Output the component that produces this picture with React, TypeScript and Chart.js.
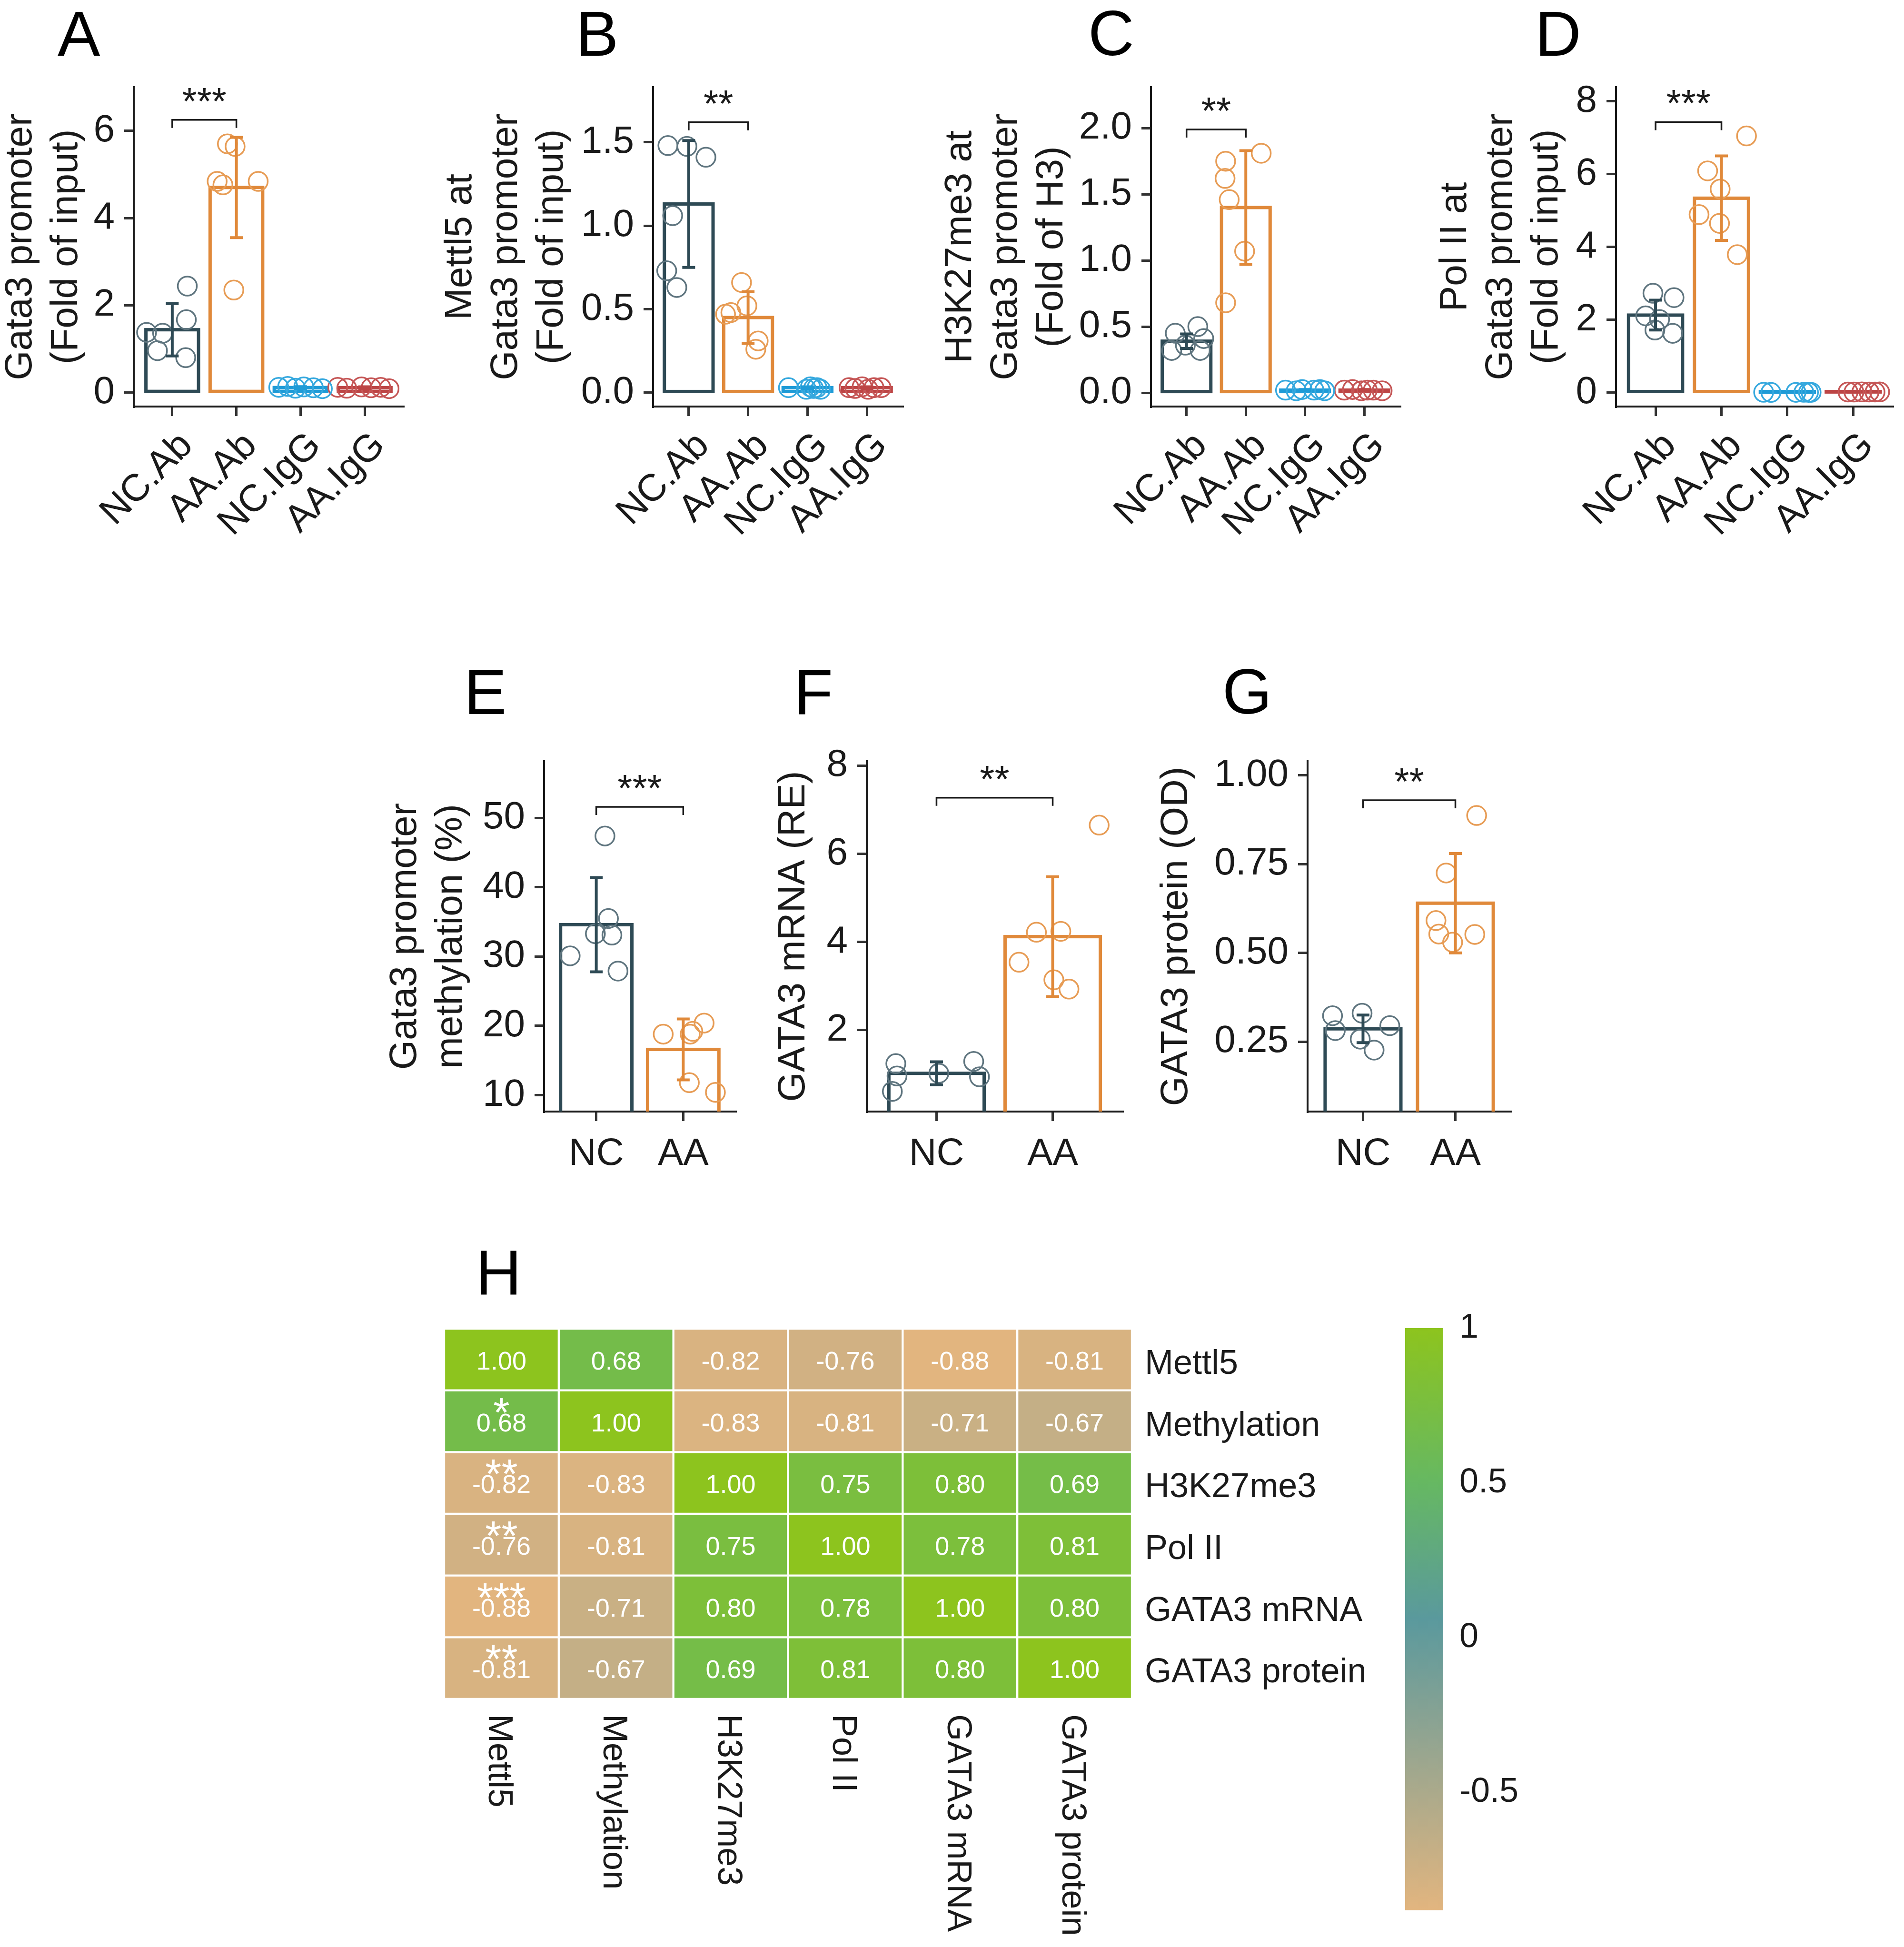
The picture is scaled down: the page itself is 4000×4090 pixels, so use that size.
import React, { useEffect, useRef } from 'react';
import { Chart, registerables } from 'chart.js';

Chart.register(...registerables);

const FONT = '"Liberation Sans", Arial, Helvetica, sans-serif';
const INK = '#1a1a1a';

// ---------------- categories ----------------
const chipCategories = ['NC.Ab', 'AA.Ab', 'NC.IgG', 'AA.IgG'];
const exprCategories = ['NC', 'AA'];

// ---------------- Panel A ----------------
const aMeans = [1.44, 4.7, 0.115, 0.113];
const aSD = [0.6, 1.15, 0.02, 0.02];
const aPtsX = [
  [0.6, 0.85, 0.77, 1.235, 1.22, 1.21],
  [1.86, 1.98, 1.7, 1.79, 2.34, 1.96],
  [2.66, 2.8, 2.92, 3.05, 3.2, 3.34],
  [3.58, 3.72, 3.95, 4.1, 4.25, 4.38],
];
const aPtsY = [
  [1.38, 1.36, 0.96, 2.44, 1.67, 0.8],
  [5.7, 5.64, 4.84, 4.76, 4.84, 2.35],
  [0.12, 0.14, 0.1, 0.13, 0.11, 0.09],
  [0.12, 0.1, 0.13, 0.11, 0.12, 0.09],
];
const aTicks = [0, 2, 4, 6];
const aTickLabels = ['0', '2', '4', '6'];
const aSigY = 6.25;
const aSigLabel = '***';

// ---------------- Panel B ----------------
const bMeans = [1.13, 0.45, 0.03, 0.03];
const bSD = [0.38, 0.155, 0.005, 0.005];
const bPtsX = [
  [0.65, 0.97, 1.29, 0.73, 0.63, 0.8],
  [1.89, 1.98, 1.71, 1.62, 2.17, 2.13],
  [2.68, 2.98, 3.05, 3.1, 3.16, 3.22],
  [3.7, 3.8, 3.92, 4.02, 4.12, 4.24],
];
const bPtsY = [
  [1.48, 1.475, 1.41, 1.06, 0.73, 0.63],
  [0.66, 0.52, 0.48, 0.47, 0.31, 0.26],
  [0.03, 0.02, 0.035, 0.025, 0.03, 0.02],
  [0.03, 0.025, 0.035, 0.02, 0.03, 0.03],
];
const bTicks = [0, 0.5, 1.0, 1.5];
const bTickLabels = ['0.0', '0.5', '1.0', '1.5'];
const bSigY = 1.62;
const bSigLabel = '**';

// ---------------- Panel C ----------------
const cMeans = [0.39, 1.4, 0.02, 0.02];
const cSD = [0.055, 0.43, 0.005, 0.005];
const cPtsX = [
  [0.81, 1.19, 1.29, 0.75, 0.98, 1.23],
  [2.26, 1.66, 1.65, 1.72, 1.98, 1.66],
  [2.67, 2.85, 2.95, 3.15, 3.25, 3.33],
  [3.66, 3.8, 3.95, 4.05, 4.15, 4.3],
];
const cPtsY = [
  [0.45, 0.5, 0.41, 0.32, 0.36, 0.32],
  [1.81, 1.75, 1.62, 1.46, 1.07, 0.68],
  [0.02, 0.015, 0.025, 0.02, 0.025, 0.015],
  [0.02, 0.025, 0.015, 0.02, 0.02, 0.015],
];
const cTicks = [0, 0.5, 1.0, 1.5, 2.0];
const cTickLabels = ['0.0', '0.5', '1.0', '1.5', '2.0'];
const cSigY = 1.99;
const cSigLabel = '**';

// ---------------- Panel D ----------------
const dMeans = [2.13, 5.34, 0.01, 0.02];
const dSD = [0.41, 1.16, 0.005, 0.005];
const dPtsX = [
  [0.96, 1.28, 0.85, 1.06, 0.99, 1.26],
  [2.38, 1.79, 1.98, 1.66, 1.97, 2.24],
  [2.64, 2.75, 3.13, 3.25, 3.32, 3.36],
  [3.92, 4.01, 4.13, 4.24, 4.33, 4.4],
];
const dPtsY = [
  [2.73, 2.61, 2.11, 2.01, 1.72, 1.63],
  [7.05, 6.09, 5.59, 4.89, 4.65, 3.79],
  [0.012, 0.008, 0.01, 0.011, 0.009, 0.01],
  [0.02, 0.018, 0.022, 0.02, 0.019, 0.021],
];
const dTicks = [0, 2, 4, 6, 8];
const dTickLabels = ['0', '2', '4', '6', '8'];
const dSigY = 7.43;
const dSigLabel = '***';

// ---------------- Panel E ----------------
const eMeans = [34.6, 16.6];
const eSD = [6.8, 4.4];
const ePtsX = [
  [1.1, 1.14, 0.99, 1.18, 0.7, 1.25],
  [2.24, 1.77, 2.11, 2.08, 2.07, 2.37],
];
const ePtsY = [
  [47.4, 35.5, 33.3, 33.1, 30.1, 27.9],
  [20.4, 18.8, 19.2, 18.8, 11.8, 10.4],
];
const eTicks = [10, 20, 30, 40, 50];
const eTickLabels = ['10', '20', '30', '40', '50'];
const eSigY = 51.6;
const eSigLabel = '***';

// ---------------- Panel F ----------------
const fMeans = [1.02, 4.12];
const fSD = [0.26, 1.36];
const fPtsX = [
  [0.65, 1.32, 0.66, 1.37, 1.02, 0.62],
  [2.4, 1.86, 2.07, 1.71, 2.01, 2.14],
];
const fPtsY = [
  [1.24, 1.29, 0.96, 0.94, 1.02, 0.61],
  [6.65, 4.22, 4.24, 3.54, 3.14, 2.93],
];
const fTicks = [2, 4, 6, 8];
const fTickLabels = ['2', '4', '6', '8'];
const fSigY = 7.27;
const fSigLabel = '**';

// ---------------- Panel G ----------------
const gMeans = [0.286, 0.64];
const gSD = [0.039, 0.14];
const gPtsX = [
  [0.67, 0.99, 1.29, 0.7, 0.97, 1.12],
  [2.23, 1.9, 1.79, 1.82, 2.21, 1.97],
];
const gPtsY = [
  [0.323, 0.33, 0.295, 0.281, 0.257, 0.226],
  [0.887, 0.725, 0.591, 0.553, 0.552, 0.53],
];
const gTicks = [0.25, 0.5, 0.75, 1.0];
const gTickLabels = ['0.25', '0.50', '0.75', '1.00'];
const gSigY = 0.93;
const gSigLabel = '**';

// ---------------- Panel H (correlation heatmap) ----------------
const hmVars = ['Mettl5', 'Methylation', 'H3K27me3', 'Pol II', 'GATA3 mRNA', 'GATA3 protein'];
const hmValues = [
  [1.0, 0.68, -0.82, -0.76, -0.88, -0.81],
  [0.68, 1.0, -0.83, -0.81, -0.71, -0.67],
  [-0.82, -0.83, 1.0, 0.75, 0.8, 0.69],
  [-0.76, -0.81, 0.75, 1.0, 0.78, 0.81],
  [-0.88, -0.71, 0.8, 0.78, 1.0, 0.8],
  [-0.81, -0.67, 0.69, 0.81, 0.8, 1.0],
];
const hmStarsFirstCol = ['', '*', '**', '**', '***', '**'];
const paletteValues = [-0.88, 0.06, 0.5, 1.0];
const paletteColors = ['#E2B57F', '#5A999D', '#66B862', '#8DC41E'];
const cbTicks = [-0.5, 0, 0.5, 1];
const cbTickLabels = ['-0.5', '0', '0.5', '1'];

// ---------------- styles ----------------
const barColors = ['#2E4A55', '#E0893A', '#1E9BD7', '#BD4545'];
const pointColors = ['#5F757F', '#E79C55', '#35A8DE', '#C55656'];

function hexToRgb(h: string) {
  const n = parseInt(h.slice(1), 16);
  return [(n >> 16) & 255, (n >> 8) & 255, n & 255];
}
function colorFor(v: number) {
  const cs = paletteColors.map(hexToRgb);
  const last = paletteValues.length - 1;
  let c = cs[0];
  if (v >= paletteValues[last]) c = cs[last];
  else if (v > paletteValues[0]) {
    for (let i = 0; i < last; i++) {
      if (v >= paletteValues[i] && v <= paletteValues[i + 1]) {
        const t = (v - paletteValues[i]) / (paletteValues[i + 1] - paletteValues[i]);
        c = cs[i].map((a, k) => Math.round(a + (cs[i + 1][k] - a) * t));
        break;
      }
    }
  }
  return `rgb(${c[0]},${c[1]},${c[2]})`;
}

type Rect = { x: number; y: number; w: number; h: number };
type Plot = { l: number; r: number; t: number; b: number };
type BarPanel = {
  cats: string[];
  means: number[];
  sd: number[];
  px: number[][];
  py: number[][];
  yMin: number;
  yMax: number;
  ticks: number[];
  tickLabels: string[];
  title: string[];
  sigY: number;
  sigLabel: string;
  rotate: boolean;
  canvas: Rect;
  plot: Plot;
  titlePad: number;
};

const ROW1 = { y: 0, h: 1200, t: 183, b: 854 };
const ROW2 = { y: 1380, h: 1120, t: 1599, b: 2335 };

const panels: BarPanel[] = [
  {
    cats: chipCategories, means: aMeans, sd: aSD, px: aPtsX, py: aPtsY,
    yMin: -0.32, yMax: 7.0, ticks: aTicks, tickLabels: aTickLabels,
    title: ['Gata3 promoter', '(Fold of input)'], sigY: aSigY, sigLabel: aSigLabel, rotate: true,
    canvas: { x: -10, y: ROW1.y, w: 910, h: ROW1.h }, plot: { l: 281, r: 847, t: ROW1.t, b: ROW1.b }, titlePad: 6,
  },
  {
    cats: chipCategories, means: bMeans, sd: bSD, px: bPtsX, py: bPtsY,
    yMin: -0.083, yMax: 1.83, ticks: bTicks, tickLabels: bTickLabels,
    title: ['Mettl5 at', 'Gata3 promoter', '(Fold of input)'], sigY: bSigY, sigLabel: bSigLabel, rotate: true,
    canvas: { x: 900, y: ROW1.y, w: 1050, h: ROW1.h }, plot: { l: 1372, r: 1896, t: ROW1.t, b: ROW1.b }, titlePad: 20,
  },
  {
    cats: chipCategories, means: cMeans, sd: cSD, px: cPtsX, py: cPtsY,
    yMin: -0.104, yMax: 2.31, ticks: cTicks, tickLabels: cTickLabels,
    title: ['H3K27me3 at', 'Gata3 promoter', '(Fold of H3)'], sigY: cSigY, sigLabel: cSigLabel, rotate: true,
    canvas: { x: 1950, y: ROW1.y, w: 1050, h: ROW1.h }, plot: { l: 2418, r: 2941, t: ROW1.t, b: ROW1.b }, titlePad: 20,
  },
  {
    cats: chipCategories, means: dMeans, sd: dSD, px: dPtsX, py: dPtsY,
    yMin: -0.38, yMax: 8.39, ticks: dTicks, tickLabels: dTickLabels,
    title: ['Pol II at', 'Gata3 promoter', '(Fold of input)'], sigY: dSigY, sigLabel: dSigLabel, rotate: true,
    canvas: { x: 3000, y: ROW1.y, w: 1000, h: ROW1.h }, plot: { l: 3395, r: 3988, t: ROW1.t, b: ROW1.b }, titlePad: 10,
  },
  {
    cats: exprCategories, means: eMeans, sd: eSD, px: ePtsX, py: ePtsY,
    yMin: 7.63, yMax: 58.2, ticks: eTicks, tickLabels: eTickLabels,
    title: ['Gata3 promoter', 'methylation (%)'], sigY: eSigY, sigLabel: eSigLabel, rotate: false,
    canvas: { x: 780, y: ROW2.y, w: 820, h: ROW2.h }, plot: { l: 1143, r: 1545, t: ROW2.t, b: ROW2.b }, titlePad: 24,
  },
  {
    cats: exprCategories, means: fMeans, sd: fSD, px: fPtsX, py: fPtsY,
    yMin: 0.153, yMax: 8.1, ticks: fTicks, tickLabels: fTickLabels,
    title: ['GATA3 mRNA (RE)'], sigY: fSigY, sigLabel: fSigLabel, rotate: false,
    canvas: { x: 1600, y: ROW2.y, w: 800, h: ROW2.h }, plot: { l: 1821, r: 2358, t: ROW2.t, b: ROW2.b }, titlePad: 20,
  },
  {
    cats: exprCategories, means: gMeans, sd: gSD, px: gPtsX, py: gPtsY,
    yMin: 0.053, yMax: 1.04, ticks: gTicks, tickLabels: gTickLabels,
    title: ['GATA3 protein (OD)'], sigY: gSigY, sigLabel: gSigLabel, rotate: false,
    canvas: { x: 2400, y: ROW2.y, w: 900, h: ROW2.h }, plot: { l: 2747, r: 3174, t: ROW2.t, b: ROW2.b }, titlePad: 24,
  },
];

const letters = [
  { t: 'A', x: 121, y: 4 },
  { t: 'B', x: 1210, y: 4 },
  { t: 'C', x: 2286, y: 3 },
  { t: 'D', x: 3225, y: 4 },
  { t: 'E', x: 975, y: 1387 },
  { t: 'F', x: 1668, y: 1387 },
  { t: 'G', x: 2568, y: 1386 },
  { t: 'H', x: 999, y: 2607 },
];

const baseOptions = {
  responsive: false,
  animation: false as const,
  devicePixelRatio: 1,
  events: [] as any[],
  plugins: { legend: { display: false }, tooltip: { enabled: false } },
};

function barConfig(p: BarPanel): any {
  const n = p.cats.length;
  const { canvas, plot } = p;
  const datasets: any[] = [
    {
      type: 'bar',
      data: p.means.map((m, i) => ({ x: i + 1, y: m })),
      backgroundColor: 'rgba(0,0,0,0)',
      borderWidth: 0,
      barPercentage: 0.82,
      categoryPercentage: 1,
      order: 5,
    },
  ];
  p.py.forEach((ys, g) => {
    datasets.push({
      type: 'scatter',
      data: ys.map((y, k) => ({ x: p.px[g][k], y })),
      showLine: false,
      borderColor: pointColors[g],
      backgroundColor: 'rgba(0,0,0,0)',
      pointRadius: 20,
      pointHoverRadius: 20,
      pointBorderWidth: 3.5,
      pointBorderColor: pointColors[g],
      pointBackgroundColor: 'rgba(0,0,0,0)',
      order: 1,
    });
  });

  const panelPlugin = {
    id: 'panelDecor',
    beforeDatasetsDraw(chart: any) {
      const ctx = chart.ctx;
      const a = chart.chartArea;
      const meta = chart.getDatasetMeta(0);
      ctx.save();
      ctx.beginPath();
      ctx.rect(a.left - 20, a.top - 60, a.right - a.left + 40, a.bottom - a.top + 60);
      ctx.clip();
      meta.data.forEach((el: any, i: number) => {
        const w = el.width;
        const top = Math.min(el.y, el.base);
        const h = Math.abs(el.base - el.y);
        ctx.strokeStyle = barColors[i];
        ctx.lineWidth = 7;
        ctx.lineJoin = 'miter';
        ctx.strokeRect(el.x - w / 2, top, w, h);
      });
      ctx.restore();
    },
    afterDatasetsDraw(chart: any) {
      const ctx = chart.ctx;
      const xs = chart.scales.x;
      const ys = chart.scales.y;
      const a = chart.chartArea;
      ctx.save();
      // error bars
      p.means.forEach((m, i) => {
        const x = xs.getPixelForValue(i + 1);
        const y1 = ys.getPixelForValue(m + p.sd[i]);
        const y0 = ys.getPixelForValue(m - p.sd[i]);
        ctx.strokeStyle = barColors[i];
        ctx.lineWidth = 6;
        ctx.lineCap = 'butt';
        ctx.beginPath();
        ctx.moveTo(x, y0);
        ctx.lineTo(x, y1);
        ctx.moveTo(x - 13.5, y1);
        ctx.lineTo(x + 13.5, y1);
        ctx.moveTo(x - 13.5, y0);
        ctx.lineTo(x + 13.5, y0);
        ctx.stroke();
      });
      // significance bracket
      const bx1 = xs.getPixelForValue(1);
      const bx2 = xs.getPixelForValue(2);
      const by = ys.getPixelForValue(p.sigY);
      ctx.strokeStyle = INK;
      ctx.lineWidth = 3.5;
      ctx.beginPath();
      ctx.moveTo(bx1, by + 17);
      ctx.lineTo(bx1, by);
      ctx.lineTo(bx2, by);
      ctx.lineTo(bx2, by + 17);
      ctx.stroke();
      ctx.fillStyle = INK;
      ctx.font = `80px ${FONT}`;
      ctx.textAlign = 'center';
      ctx.textBaseline = 'alphabetic';
      ctx.fillText(p.sigLabel, (bx1 + bx2) / 2, by - 12);
      // x category labels
      ctx.font = `80px ${FONT}`;
      p.cats.forEach((lab, i) => {
        const x = xs.getPixelForValue(i + 1);
        if (p.rotate) {
          ctx.save();
          ctx.translate(x + 6, a.bottom + 45);
          ctx.rotate(-Math.PI / 4);
          ctx.textAlign = 'right';
          ctx.textBaseline = 'alphabetic';
          ctx.fillText(lab, 0, 57);
          ctx.restore();
        } else {
          ctx.textAlign = 'center';
          ctx.textBaseline = 'alphabetic';
          ctx.fillText(lab, x, a.bottom + 55 + 57);
        }
      });
      ctx.restore();
    },
  };

  return {
    type: 'bar',
    data: { datasets },
    options: {
      ...baseOptions,
      layout: {
        padding: { left: 0, bottom: 0, top: plot.t - canvas.y, right: canvas.x + canvas.w - plot.r },
      },
      scales: {
        x: {
          type: 'linear',
          offset: false,
          min: 0.4,
          max: n + 0.6,
          afterBuildTicks: (s: any) => {
            s.ticks = p.cats.map((_, i) => ({ value: i + 1 }));
          },
          afterFit: (s: any) => {
            s.height = canvas.y + canvas.h - plot.b;
          },
          ticks: { display: false },
          grid: {
            display: true,
            offset: false,
            drawOnChartArea: false,
            drawTicks: true,
            tickLength: 20,
            tickWidth: 5,
            tickColor: '#333',
            color: '#333',
            lineWidth: 5,
          },
          border: { display: true, color: INK, width: 4 },
        },
        y: {
          type: 'linear',
          min: p.yMin,
          max: p.yMax,
          afterBuildTicks: (s: any) => {
            s.ticks = p.ticks.map((v) => ({ value: v }));
          },
          afterFit: (s: any) => {
            s.width = plot.l - canvas.x;
          },
          ticks: {
            autoSkip: false,
            font: { family: FONT, size: 80 },
            color: INK,
            padding: 20,
            callback: (_v: any, i: number) => p.tickLabels[i],
          },
          grid: {
            drawOnChartArea: false,
            drawTicks: true,
            tickLength: 20,
            tickWidth: 5,
            tickColor: '#333',
            color: '#333',
            lineWidth: 5,
          },
          border: { display: true, color: INK, width: 4 },
          title: {
            display: true,
            text: p.title,
            color: INK,
            font: { family: FONT, size: 80, lineHeight: 1.2 },
            padding: { top: p.titlePad, bottom: 0 },
          },
        },
      },
    },
    plugins: [panelPlugin],
  };
}

const HM_CANVAS: Rect = { x: 880, y: 2700, w: 2060, h: 1390 };
const HM_PLOT: Plot = { l: 933, r: 2378, t: 2791, b: 3569 };
const CB_CANVAS: Rect = { x: 2900, y: 2700, w: 450, h: 1390 };
const CB_PLOT: Plot = { l: 2952, r: 3032, t: 2790, b: 4017 };

function heatmapConfig(): any {
  const nr = hmVars.length;
  const datasets = hmVars.map((_, k) => {
    const r = nr - 1 - k;
    return {
      data: hmVars.map(() => 1),
      backgroundColor: hmValues[r].map((v) => colorFor(v)),
      borderColor: '#ffffff',
      borderWidth: 2.5,
      borderSkipped: false,
      barPercentage: 1,
      categoryPercentage: 1,
    };
  });
  const textPlugin = {
    id: 'heatText',
    afterDatasetsDraw(chart: any) {
      const ctx = chart.ctx;
      const xs = chart.scales.x;
      const ys = chart.scales.y;
      const a = chart.chartArea;
      ctx.save();
      hmValues.forEach((row, r) => {
        const yTop = ys.getPixelForValue(nr - r);
        const yc = ys.getPixelForValue(nr - r - 0.5);
        row.forEach((v, c) => {
          const x = xs.getPixelForValue(c);
          ctx.fillStyle = '#ffffff';
          ctx.font = `54px ${FONT}`;
          ctx.textAlign = 'center';
          ctx.textBaseline = 'alphabetic';
          ctx.fillText(v.toFixed(2), x, yc + 21);
          if (c === 0 && hmStarsFirstCol[r]) {
            ctx.font = `88px ${FONT}`;
            ctx.fillText(hmStarsFirstCol[r], x, yTop + 76);
          }
        });
        // row label
        ctx.fillStyle = INK;
        ctx.font = `72px ${FONT}`;
        ctx.textAlign = 'left';
        ctx.fillText(hmVars[r], a.right + 27, yc + 30);
      });
      // column labels (rotated, reading top to bottom)
      hmVars.forEach((lab, c) => {
        const x = xs.getPixelForValue(c);
        ctx.save();
        ctx.translate(x, a.bottom + 32);
        ctx.rotate(Math.PI / 2);
        ctx.fillStyle = INK;
        ctx.font = `72px ${FONT}`;
        ctx.textAlign = 'left';
        ctx.textBaseline = 'alphabetic';
        ctx.fillText(lab, 0, 26);
        ctx.restore();
      });
      ctx.restore();
    },
  };
  return {
    type: 'bar',
    data: { labels: hmVars, datasets },
    options: {
      ...baseOptions,
      layout: {
        padding: {
          left: HM_PLOT.l - HM_CANVAS.x,
          right: HM_CANVAS.x + HM_CANVAS.w - HM_PLOT.r,
          top: HM_PLOT.t - HM_CANVAS.y,
          bottom: HM_CANVAS.y + HM_CANVAS.h - HM_PLOT.b,
        },
      },
      scales: {
        x: { stacked: true, display: false },
        y: { stacked: true, display: false, min: 0, max: hmVars.length },
      },
    },
    plugins: [textPlugin],
  };
}

function colorbarConfig(): any {
  const vMin = paletteValues[0];
  const vMax = paletteValues[paletteValues.length - 1];
  return {
    type: 'bar',
    data: {
      labels: ['r'],
      datasets: [
        {
          data: [[vMin, vMax]],
          borderWidth: 0,
          barPercentage: 1,
          categoryPercentage: 1,
          backgroundColor: (c: any) => {
            const chart = c.chart;
            if (!chart.chartArea) return paletteColors[0];
            const ys = chart.scales.y;
            const y0 = ys.getPixelForValue(vMin);
            const y1 = ys.getPixelForValue(vMax);
            const g = chart.ctx.createLinearGradient(0, y0, 0, y1);
            paletteValues.forEach((v, i) => g.addColorStop((v - vMin) / (vMax - vMin), paletteColors[i]));
            return g;
          },
        },
      ],
    },
    options: {
      ...baseOptions,
      layout: {
        padding: {
          left: CB_PLOT.l - CB_CANVAS.x,
          right: 0,
          top: CB_PLOT.t - CB_CANVAS.y,
          bottom: CB_CANVAS.y + CB_CANVAS.h - CB_PLOT.b,
        },
      },
      scales: {
        x: { display: false },
        y: {
          position: 'right',
          min: vMin,
          max: vMax,
          afterBuildTicks: (s: any) => {
            s.ticks = cbTicks.map((v) => ({ value: v }));
          },
          afterFit: (s: any) => {
            s.width = CB_CANVAS.x + CB_CANVAS.w - CB_PLOT.r;
          },
          ticks: {
            autoSkip: false,
            padding: 34,
            color: INK,
            font: { family: FONT, size: 72 },
            callback: (_v: any, i: number) => cbTickLabels[i],
          },
          grid: { display: false, drawTicks: false, drawOnChartArea: false },
          border: { display: false },
        },
      },
    },
  };
}

function ChartCanvas({ rect, make }: { rect: Rect; make: () => any }) {
  const ref = useRef<HTMLCanvasElement | null>(null);
  useEffect(() => {
    if (!ref.current) return;
    const chart = new Chart(ref.current, make());
    return () => chart.destroy();
  }, []);
  return (
    <canvas
      ref={ref}
      width={rect.w}
      height={rect.h}
      style={{ position: 'absolute', left: rect.x, top: rect.y, width: rect.w, height: rect.h, display: 'block' }}
    />
  );
}

export default function App() {
  return (
    <div
      style={{
        position: 'absolute',
        left: 0,
        top: 0,
        width: 4000,
        height: 4090,
        background: '#ffffff',
        overflow: 'hidden',
        fontFamily: FONT,
      }}
    >
      {panels.map((p, i) => (
        <ChartCanvas key={i} rect={p.canvas} make={() => barConfig(p)} />
      ))}
      <ChartCanvas rect={HM_CANVAS} make={heatmapConfig} />
      <ChartCanvas rect={CB_CANVAS} make={colorbarConfig} />
      {letters.map((l) => (
        <div
          key={l.t}
          style={{
            position: 'absolute',
            left: l.x,
            top: l.y,
            fontSize: 134,
            lineHeight: '134px',
            color: '#000',
            fontFamily: FONT,
          }}
        >
          {l.t}
        </div>
      ))}
    </div>
  );
}
